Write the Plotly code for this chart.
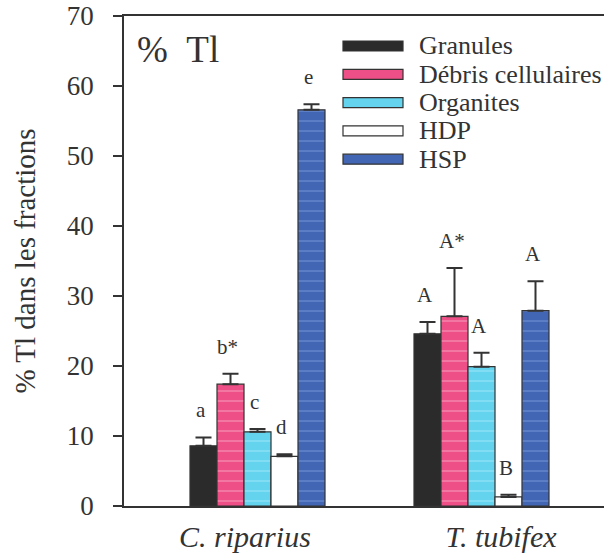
import plotly.graph_objects as go

# ---- data ----
species = ["C. riparius", "T. tubifex"]
fractions = ["Granules", "Débris cellulaires", "Organites", "HDP", "HSP"]
means = {
    "Granules":           [8.6, 24.6],
    "Débris cellulaires": [17.4, 27.1],
    "Organites":          [10.6, 19.9],
    "HDP":                [7.1, 1.3],
    "HSP":                [56.6, 27.9],
}
errors = {
    "Granules":           [1.2, 1.7],
    "Débris cellulaires": [1.5, 6.9],
    "Organites":          [0.4, 2.0],
    "HDP":                [0.3, 0.3],
    "HSP":                [0.8, 4.2],
}
letters = {
    "Granules":           ["a", "A"],
    "Débris cellulaires": ["b*", "A*"],
    "Organites":          ["c", "A"],
    "HDP":                ["d", "B"],
    "HSP":                ["e", "A"],
}
y_ticks = [0, 10, 20, 30, 40, 50, 60, 70]

# ---- styles ----
colors = {
    "Granules": "#2b2b2b",
    "Débris cellulaires": "#ee4f86",
    "Organites": "#63d3ee",
    "HDP": "#ffffff",
    "HSP": "#4266b4",
}
stripes = {
    "Granules": None,
    "Débris cellulaires": "#f7a0bf",
    "Organites": "#9fe8f8",
    "HDP": None,
    "HSP": "#7395d8",
}
FONT = "Liberation Serif, Times New Roman, serif"
INK = "#333333"

L, R, T, B = 124, 604, 16, 506  # plot area in px
W, H = R - L, B - T
unit_px = 224.0
x0 = -(257.5 - L) / unit_px
x1 = x0 + W / unit_px
n = len(fractions)
bar_units = 27.0 / unit_px

fig = go.Figure()
for i, f in enumerate(fractions):
    pattern = dict(shape="")
    if stripes[f]:
        pattern = dict(shape="-", fgcolor=stripes[f], bgcolor=colors[f],
                       size=10, solidity=0.1, fillmode="replace")
    fig.add_trace(go.Bar(
        name=f, x=list(range(len(species))), y=means[f],
        marker=dict(color=colors[f], line=dict(color=INK, width=1.2), pattern=pattern),
        error_y=dict(type="data", symmetric=False, array=errors[f],
                     arrayminus=[0] * len(species), color=INK, thickness=2, width=8),
        showlegend=False,
    ))
    # significance letters above the error bars
    for j in range(len(species)):
        fig.add_annotation(
            x=j + (i - (n - 1) / 2) * bar_units, y=means[f][j] + errors[f][j],
            xref="x", yref="y", text=letters[f][j], showarrow=False,
            yanchor="middle", yshift=27, xshift=-3,
            font=dict(family=FONT, size=21, color=INK))

# legend drawn as wide swatches
for i, f in enumerate(fractions):
    cy = 46 + 28.3 * i
    fig.add_shape(type="rect", xref="paper", yref="paper",
                  x0=(343 - L) / W, x1=(403 - L) / W,
                  y0=(B - cy - 5) / H, y1=(B - cy + 5) / H,
                  fillcolor=colors[f], line=dict(color=INK, width=1.2))
    fig.add_annotation(xref="paper", yref="paper", x=(417 - L) / W, y=(B - cy) / H,
                       text=f, showarrow=False, xanchor="left", yanchor="middle",
                       font=dict(family=FONT, size=26, color=INK))

fig.add_annotation(xref="paper", yref="paper", x=(135 - L) / W, y=(B - 49) / H,
                   text="%\u00a0\u00a0Tl", showarrow=False, xanchor="left", yanchor="middle",
                   font=dict(family=FONT, size=37, color=INK))

fig.update_layout(
    width=604, height=556,
    margin=dict(l=L, r=604 - R, t=T, b=556 - B, autoexpand=False),
    paper_bgcolor="white", plot_bgcolor="white",
    barmode="group", bargap=1 - n * bar_units, bargroupgap=0,
    font=dict(family=FONT, color=INK),
    xaxis=dict(range=[x0, x1], tickmode="array", automargin=False,
               tickvals=[-0.056, 1.087],
               ticktext=[f"<i>{s}</i>" for s in species],
               ticks="", showline=True, linecolor=INK, linewidth=1.5, mirror=True,
               showgrid=False, zeroline=False, ticklabelstandoff=3,
               tickfont=dict(family=FONT, size=30, color=INK)),
    yaxis=dict(range=[0, 70], tickmode="array", tickvals=y_ticks, automargin=False,
               ticks="outside", ticklen=9, tickwidth=1.5, tickcolor=INK,
               showline=True, linecolor=INK, linewidth=1.5, mirror=False,
               showgrid=False, zeroline=False, ticklabelstandoff=14,
               tickfont=dict(family=FONT, size=27, color=INK),
               title=dict(text="% Tl dans les fractions", standoff=23,
                          font=dict(family=FONT, size=29, color=INK))),
)

fig.write_html("out.html")
